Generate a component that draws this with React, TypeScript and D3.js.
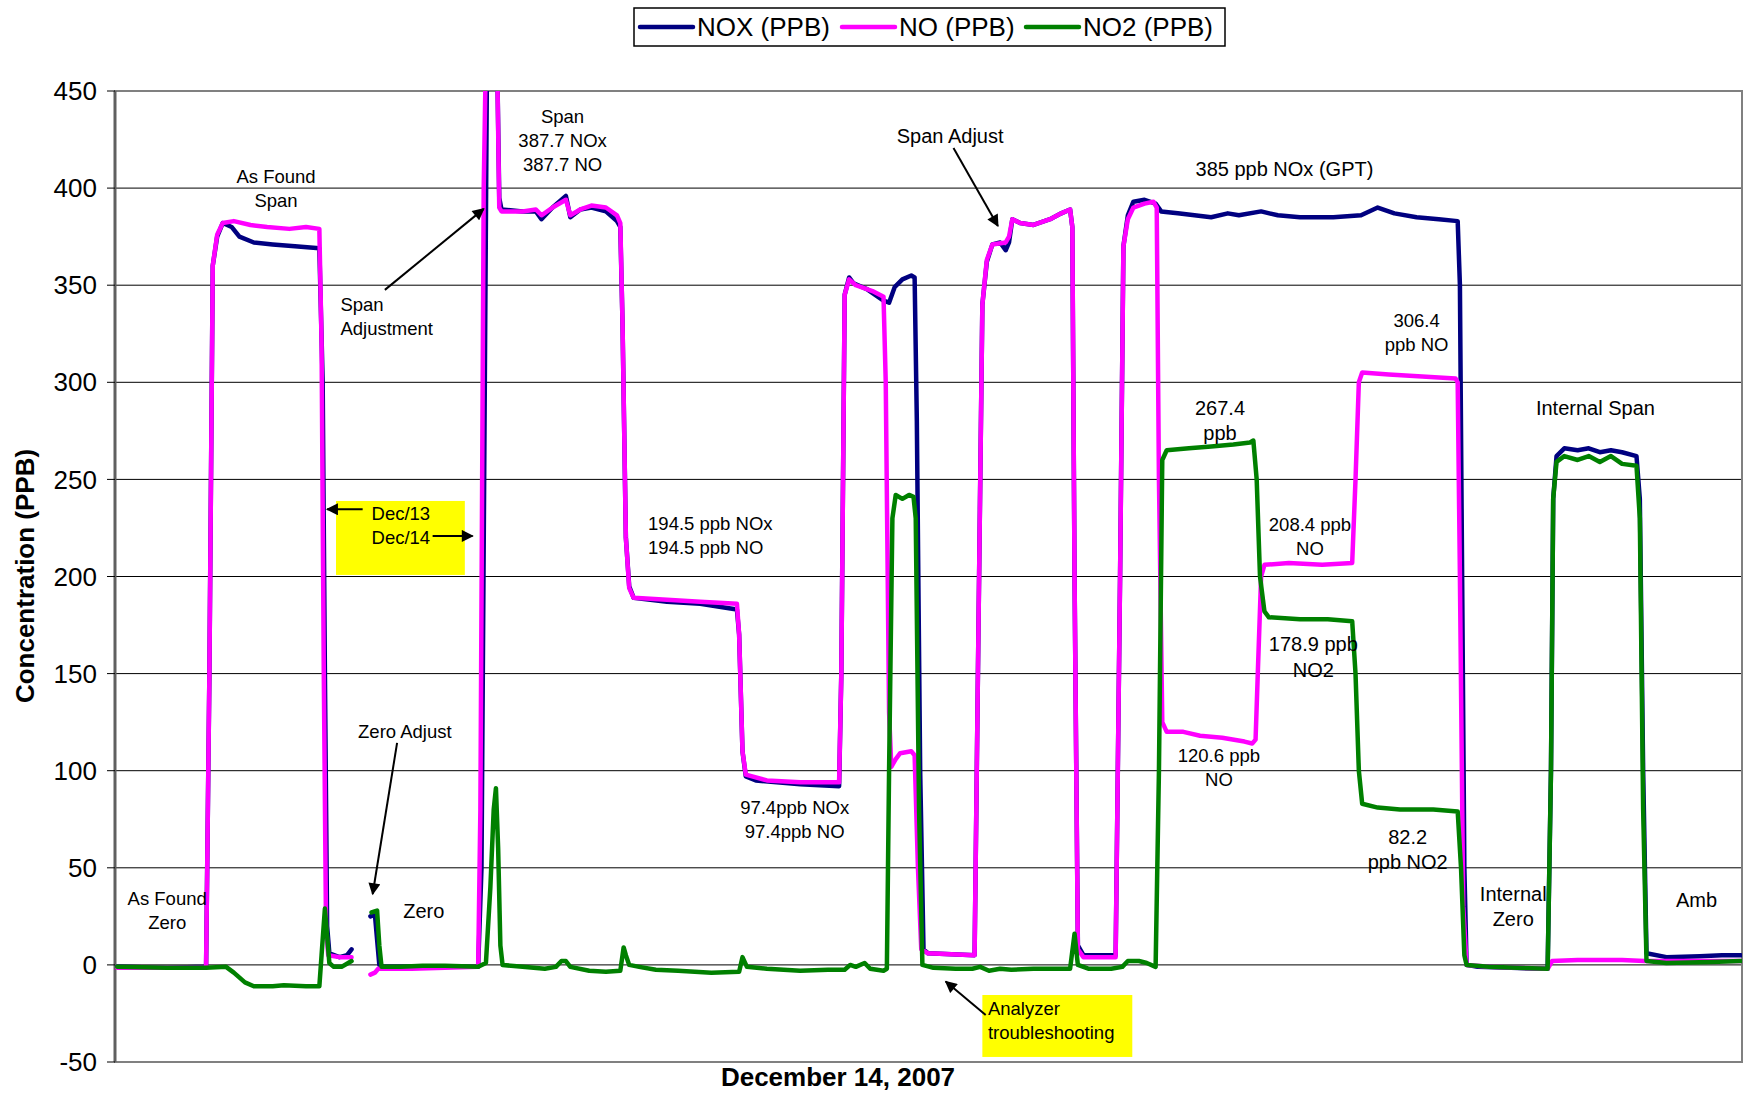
import React from 'react';
import * as d3 from 'd3';

type Pt = [number, number | null];

// minutes from start of record (x), ppb (y); null marks the data gap
const seriesNames = ['NOX (PPB)', 'NO (PPB)', 'NO2 (PPB)'];
const seriesColors = ['#000080', '#FF00FF', '#008000'];

const noxData: Pt[] = [
  [2, -1], [47, -1.5], [82, -1], [85, 150], [88, 360], [92, 375], [97, 382], [105, 380], [112, 375],
  [125, 372], [142, 371], [162, 370], [184, 369], [187, 300], [189, 150], [191, 20], [193, 6],
  [202, 4], [209, 5], [213, 8], [214, null], [230, 25], [234, 26], [238, 0], [242, -1], [327, -1],
  [330, 50], [333, 300], [335, 470], [344, 470], [346, 395], [348, 389], [367, 388], [379, 388],
  [384, 384], [394, 390], [406, 396], [410, 385], [419, 389], [429, 390], [442, 388], [452, 383],
  [455, 380], [457, 330], [460, 220], [463, 195], [467, 189], [497, 187], [527, 186], [560, 183],
  [562, 170], [565, 110], [568, 97], [577, 95], [617, 93], [652, 92], [654, 150], [657, 345],
  [661, 354], [665, 351], [677, 348], [692, 342], [697, 341], [702, 349], [709, 353], [717, 355],
  [720, 354], [722, 280], [725, 100], [728, 8], [732, 6], [774, 5], [777, 150], [781, 340],
  [785, 362], [790, 371], [797, 372], [802, 368], [805, 372], [808, 384], [815, 382], [827, 381],
  [842, 384], [852, 387], [860, 389], [862, 380], [864, 200], [867, 10], [872, 5], [901, 5],
  [905, 200], [908, 370], [912, 386], [917, 393], [927, 394], [937, 392], [942, 388], [957, 387],
  [972, 386], [987, 385], [1002, 387], [1012, 386], [1032, 388], [1047, 386], [1067, 385],
  [1097, 385], [1122, 386], [1137, 390], [1152, 387], [1172, 385], [1192, 384], [1209, 383],
  [1211, 350], [1213, 200], [1215, 50], [1217, 0], [1227, -1], [1257, -1.5], [1290, -2],
  [1293, 100], [1295, 240], [1298, 262], [1305, 266], [1317, 265], [1327, 266], [1337, 264],
  [1347, 265], [1357, 264], [1370, 262], [1373, 240], [1376, 100], [1379, 6], [1397, 4],
  [1427, 4.5], [1447, 5], [1464, 5],
];

const noData: Pt[] = [
  [2, -1.5], [82, -1.5], [85, 150], [88, 360], [92, 376], [97, 382], [107, 383], [122, 381],
  [137, 380], [157, 379], [172, 380], [184, 379], [186, 320], [188, 150], [190, 20], [192, 5],
  [202, 4], [213, 4], [214, null], [230, -5], [234, -4], [237, -2], [267, -2], [297, -1.5],
  [327, -1], [329, 80], [332, 400], [334, 470], [344, 470], [346, 390], [348, 388], [367, 388],
  [379, 389], [384, 386], [394, 390], [406, 394], [410, 386], [419, 389], [429, 391], [442, 390],
  [452, 386], [455, 382], [457, 330], [460, 220], [463, 194], [467, 189], [497, 188], [527, 187],
  [560, 186], [562, 170], [565, 110], [568, 98], [587, 95], [617, 94], [652, 94], [654, 150],
  [657, 345], [661, 353], [667, 350], [682, 347], [692, 344], [694, 300], [697, 130], [699, 102],
  [703, 106], [707, 109], [717, 110], [720, 108], [723, 50], [726, 8], [732, 6], [774, 5],
  [777, 150], [781, 340], [785, 363], [790, 371], [802, 372], [805, 375], [808, 384], [815, 382],
  [827, 381], [842, 384], [852, 387], [860, 389], [862, 380], [864, 200], [867, 8], [872, 4],
  [901, 4], [905, 200], [908, 370], [912, 384], [917, 390], [927, 392], [935, 393], [938, 390],
  [940, 250], [943, 125], [947, 120], [962, 120], [977, 118], [997, 117], [1017, 115],
  [1024, 114], [1027, 116], [1029, 150], [1032, 200], [1035, 206], [1057, 207], [1087, 206],
  [1114, 207], [1117, 250], [1120, 300], [1123, 305], [1147, 304], [1177, 303], [1207, 302],
  [1209, 300], [1211, 200], [1214, 30], [1217, 0], [1237, -1], [1290, -2], [1294, 2],
  [1317, 2.5], [1357, 2.5], [1377, 2], [1417, 2], [1464, 2],
];

const no2Data: Pt[] = [
  [2, -1], [47, -1.5], [82, -1.5], [100, -1], [107, -4], [117, -9], [125, -11], [142, -11],
  [152, -10.5], [172, -11], [184, -11], [186, 5], [189, 29], [191, 15], [193, 1], [197, -1],
  [204, -1], [210, 1], [213, 2], [214, null], [231, 27], [236, 28], [238, 10], [240, -1],
  [257, -1], [277, -0.5], [297, -0.5], [327, -1], [334, 1], [338, 40], [341, 80], [343, 91],
  [345, 60], [347, 10], [349, 0], [367, -1], [387, -2], [397, -1], [402, 2], [406, 2], [410, -1],
  [427, -3], [442, -3.5], [455, -3], [458, 9], [460, 5], [463, 0], [472, -1], [487, -2.5],
  [507, -3], [537, -4], [562, -3.5], [565, 4], [569, -1], [587, -2], [617, -3], [642, -2.5],
  [657, -2.5], [662, 0], [667, -1], [675, 1], [680, -2], [692, -3], [695, -2], [697, 100],
  [700, 230], [703, 242], [709, 240], [715, 242], [719, 241], [721, 230], [724, 80], [727, 0],
  [737, -1.5], [757, -2], [772, -2], [779, -1], [787, -3], [797, -2], [807, -2.5], [827, -2],
  [847, -2], [860, -2], [864, 16], [867, 0], [877, -2], [897, -2], [907, -1], [912, 2], [922, 2],
  [929, 1], [937, -1], [940, 100], [943, 260], [947, 265], [967, 266], [987, 267], [1007, 268],
  [1022, 269], [1025, 270], [1028, 250], [1031, 200], [1035, 182], [1039, 179], [1067, 178],
  [1092, 178], [1114, 177], [1117, 150], [1120, 100], [1123, 83], [1137, 81], [1157, 80],
  [1187, 80], [1209, 79], [1212, 50], [1215, 5], [1217, 0], [1237, -1], [1262, -1.5], [1290, -2],
  [1293, 100], [1295, 240], [1298, 259], [1305, 262], [1317, 260], [1327, 262], [1337, 259],
  [1347, 262], [1357, 258], [1370, 257], [1373, 230], [1376, 80], [1379, 2], [1397, 1],
  [1437, 1.5], [1464, 2],
];

const yTicks = [-50, 0, 50, 100, 150, 200, 250, 300, 350, 400, 450];

// annotation anchors in data units (x minutes, y ppb)
const notes = [
  { x: 145, y: 406, lines: ['As Found', 'Span'], big: false, anchor: 'middle' },
  { x: 203, y: 340, lines: ['Span', 'Adjustment'], big: false, anchor: 'start' },
  { x: 403, y: 437, lines: ['Span', '387.7 NOx', '387.7 NO'], big: false, anchor: 'middle' },
  { x: 752, y: 427, lines: ['Span Adjust'], big: true, anchor: 'middle' },
  { x: 1053, y: 410, lines: ['385 ppb NOx (GPT)'], big: true, anchor: 'middle' },
  { x: 1172, y: 332, lines: ['306.4', 'ppb NO'], big: false, anchor: 'middle' },
  { x: 995, y: 287, lines: ['267.4', 'ppb'], big: true, anchor: 'middle' },
  { x: 1076, y: 227, lines: ['208.4 ppb', 'NO'], big: false, anchor: 'middle' },
  { x: 480, y: 227.5, lines: ['194.5 ppb NOx', '194.5 ppb NO'], big: false, anchor: 'start' },
  { x: 1079, y: 165, lines: ['178.9 ppb', 'NO2'], big: true, anchor: 'middle' },
  { x: 994, y: 108, lines: ['120.6 ppb', 'NO'], big: false, anchor: 'middle' },
  { x: 612, y: 81, lines: ['97.4ppb NOx', '97.4ppb NO'], big: false, anchor: 'middle' },
  { x: 1164, y: 66, lines: ['82.2', 'ppb NO2'], big: true, anchor: 'middle' },
  { x: 1333, y: 287, lines: ['Internal Span'], big: true, anchor: 'middle' },
  { x: 1259, y: 36.7, lines: ['Internal', 'Zero'], big: true, anchor: 'middle' },
  { x: 1424, y: 33.4, lines: ['Amb'], big: true, anchor: 'middle' },
  { x: 47, y: 34, lines: ['As Found', 'Zero'], big: false, anchor: 'middle' },
  { x: 261, y: 120.4, lines: ['Zero Adjust'], big: false, anchor: 'middle' },
  { x: 278, y: 27.5, lines: ['Zero'], big: true, anchor: 'middle' },
  { x: 231, y: 232.4, lines: ['Dec/13', 'Dec/14'], big: false, anchor: 'start' },
  { x: 786, y: -22.7, lines: ['Analyzer', 'troubleshooting'], big: false, anchor: 'start' },
];

const arrows = [
  { x1: 243, y1: 347.6, x2: 332, y2: 389.3 },
  { x1: 755, y1: 420.7, x2: 795, y2: 380.5 },
  { x1: 254, y1: 114.3, x2: 232, y2: 36.5 },
  { x1: 223, y1: 234.6, x2: 191, y2: 234.6 },
  { x1: 286, y1: 220.9, x2: 322, y2: 220.9 },
  { x1: 784, y1: -25.8, x2: 748, y2: -8.6 },
];

const boxes = [
  { x0: 199, x1: 315, y0: 238.9, y1: 200.8 },
  { x0: 781, x1: 916, y0: -15.5, y1: -47.4 },
];

const W = 1745;
const H = 1094;
const left = 115;
const right = 1742;
const top = 91;
const bottom = 1062;
const font = 'Liberation Sans, Arial, sans-serif';

export default function App() {
  const x = d3.scaleLinear().domain([0, 1465]).range([left, right]);
  const y = d3.scaleLinear().domain([-50, 450]).range([bottom, top]);
  const line = d3
    .line<Pt>()
    .defined(d => d[1] !== null)
    .x(d => x(d[0]))
    .y(d => y(d[1] as number));

  const allSeries = [noxData, noData, no2Data];
  const legendX = [640, 842, 1026];

  return (
    <svg width={W} height={H} style={{ position: 'absolute', left: 0, top: 0, background: '#fff' }}
      fontFamily={font}>
      <defs>
        <clipPath id="plot">
          <rect x={left} y={top} width={right - left} height={bottom - top} />
        </clipPath>
        <marker id="arr" viewBox="0 0 10 10" refX="9" refY="5" markerWidth="13" markerHeight="12"
          markerUnits="userSpaceOnUse" orient="auto">
          <path d="M0,0 L10,5 L0,10 z" fill="#000" />
        </marker>
      </defs>
      <rect width={W} height={H} fill="#fff" />

      {/* gridlines */}
      {yTicks.slice(1, -1).map(t => (
        <line key={t} x1={left} x2={right} y1={y(t)} y2={y(t)} stroke="#000" strokeWidth={1} />
      ))}
      <rect x={left} y={top} width={right - left} height={bottom - top} fill="none"
        stroke="#808080" strokeWidth={2} />
      <line x1={left} x2={left} y1={top} y2={bottom} stroke="#606060" strokeWidth={3} />

      {/* y axis ticks */}
      {yTicks.map(t => (
        <g key={t}>
          <line x1={left - 8} x2={left} y1={y(t)} y2={y(t)} stroke="#000" strokeWidth={1} />
          <text x={97} y={y(t)} dy="0.35em" textAnchor="end" fontSize={26} fill="#000">{t}</text>
        </g>
      ))}

      {/* highlight boxes */}
      {boxes.map((b, i) => (
        <rect key={i} x={x(b.x0)} y={y(b.y0)} width={x(b.x1) - x(b.x0)} height={y(b.y1) - y(b.y0)}
          fill="#FFFF00" />
      ))}

      {/* series */}
      <g clipPath="url(#plot)">
        {allSeries.map((s, i) => (
          <path key={i} d={line(s) || ''} fill="none" stroke={seriesColors[i]} strokeWidth={4.5}
            strokeLinejoin="round" strokeLinecap="round" />
        ))}
      </g>

      {/* arrows */}
      {arrows.map((a, i) => (
        <line key={i} x1={x(a.x1)} y1={y(a.y1)} x2={x(a.x2)} y2={y(a.y2)} stroke="#000"
          strokeWidth={2} markerEnd="url(#arr)" />
      ))}

      {/* annotations */}
      {notes.map((n, i) => {
        const fs = n.big ? 20 : 18.5;
        const lh = n.big ? 25.5 : 24;
        return (
          <text key={i} x={x(n.x)} y={y(n.y)} fontSize={fs} textAnchor={n.anchor} fill="#000">
            {n.lines.map((l, j) => (
              <tspan key={j} x={x(n.x)} dy={j === 0 ? '0.35em' : lh}>{l}</tspan>
            ))}
          </text>
        );
      })}

      {/* axis titles */}
      <text transform={`translate(25,576) rotate(-90)`} textAnchor="middle" dy="0.35em"
        fontSize={26} fontWeight="bold">Concentration (PPB)</text>
      <text x={838} y={1077} textAnchor="middle" dy="0.35em" fontSize={26} fontWeight="bold">
        December 14, 2007
      </text>

      {/* legend */}
      <rect x={634} y={8} width={591} height={38} fill="#fff" stroke="#000" strokeWidth={1.5} />
      {seriesNames.map((name, i) => (
        <g key={name}>
          <line x1={legendX[i]} x2={legendX[i] + 53} y1={27} y2={27} stroke={seriesColors[i]}
            strokeWidth={4.5} strokeLinecap="round" />
          <text x={legendX[i] + 57} y={27} dy="0.35em" fontSize={26} fill="#000">{name}</text>
        </g>
      ))}
    </svg>
  );
}
